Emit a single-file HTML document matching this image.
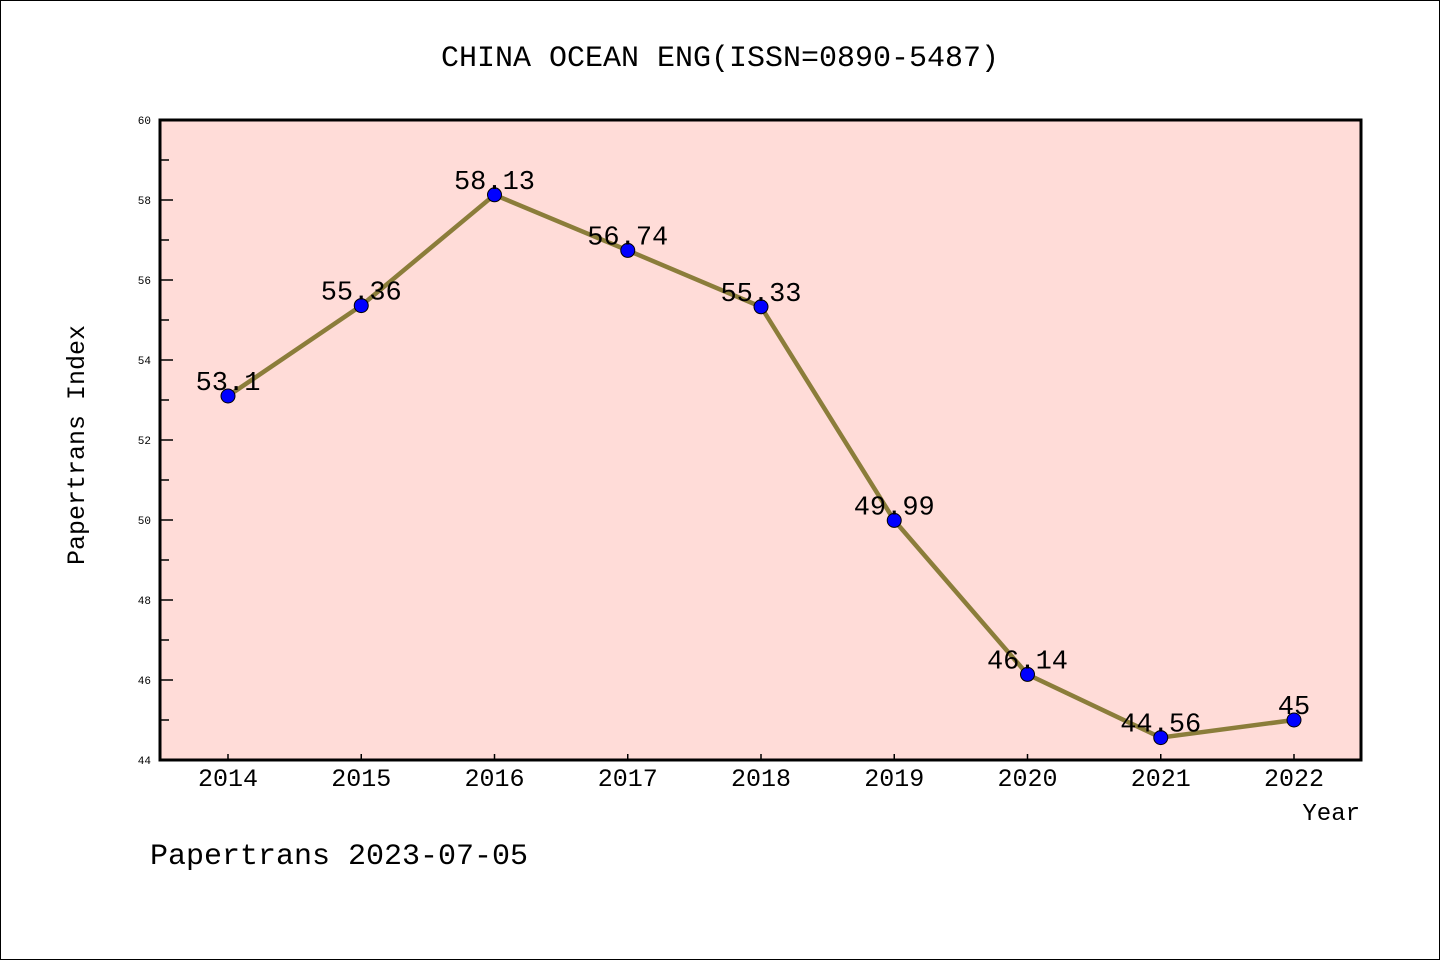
<!DOCTYPE html>
<html><head><meta charset="utf-8"><style>
html,body{margin:0;padding:0;background:#fff}
svg{display:block;font-family:"Liberation Mono","DejaVu Sans Mono",monospace}
</style></head><body>
<svg id="c" width="1440" height="960" viewBox="0 0 1440 960">
<rect x="0.5" y="0.5" width="1439" height="959" fill="#fff" stroke="#000"/>
<text x="720" y="66" font-size="30" text-anchor="middle">CHINA OCEAN ENG(ISSN=0890-5487)</text>
<rect x="160" y="120" width="1201" height="640" fill="#ffdcd8"/>
<g id="ticks"></g>
<g id="series"></g>
<rect x="160" y="120" width="1201" height="640" fill="none" stroke="#000" stroke-width="3"/>
<text x="84" y="445" font-size="25" text-anchor="middle" transform="rotate(-90 84 445)">Papertrans Index</text>
<text x="1360" y="820" font-size="24" text-anchor="end">Year</text>
<text x="150" y="864" font-size="30">Papertrans 2023-07-05</text>
</svg>
<script>
const years=["2014","2015","2016","2017","2018","2019","2020","2021","2022"];
const values=[53.1,55.36,58.13,56.74,55.33,49.99,46.14,44.56,45];
const labels=["53.1","55.36","58.13","56.74","55.33","49.99","46.14","44.56","45"];
const yTicks=[44,46,48,50,52,54,56,58,60];
const NS="http://www.w3.org/2000/svg";
const x0=228,dx=133.25;
const X=i=>x0+i*dx;
const Y=v=>760-(v-44)*40;
function mk(t,a,p){const e=document.createElementNS(NS,t);for(const k in a)e.setAttribute(k,a[k]);p.appendChild(e);return e;}
const tg=document.getElementById('ticks'),sg=document.getElementById('series');
yTicks.forEach(v=>{
 const l=mk('line',{x1:160,x2:173,y1:Y(v),y2:Y(v),stroke:'#000','stroke-width':1.5},tg);
 
 
 const t=mk('text',{x:151,y:Y(v)+4,'font-size':11,'text-anchor':'end'},tg);t.textContent=v;
 
 
 if(v<60){const m=mk('line',{x1:160,x2:169,y1:Y(v+1),y2:Y(v+1),stroke:'#000','stroke-width':1.5},tg);
 
 }
});
years.forEach((y,i)=>{
 const l=mk('line',{x1:X(i),x2:X(i),y1:760,y2:754,stroke:'#000','stroke-width':1.5},tg);
 
 
 const t=mk('text',{x:X(i),y:786,'font-size':25,'text-anchor':'middle'},tg);t.textContent=y;
 
 
});
const pl=mk('polyline',{points:values.map((v,i)=>X(i)+','+Y(v)).join(' '),fill:'none',stroke:'#8b7d3a','stroke-width':4.5},sg);


values.forEach((v,i)=>{
 const c=mk('circle',{cx:X(i),cy:Y(v),r:7,fill:'#0000ff',stroke:'#000','stroke-width':1},sg);
 
 
 const t=mk('text',{x:X(i),y:Y(v)-6,'font-size':27,'text-anchor':'middle'},sg);t.textContent=labels[i];
 
 
});
</script>
</body></html>
